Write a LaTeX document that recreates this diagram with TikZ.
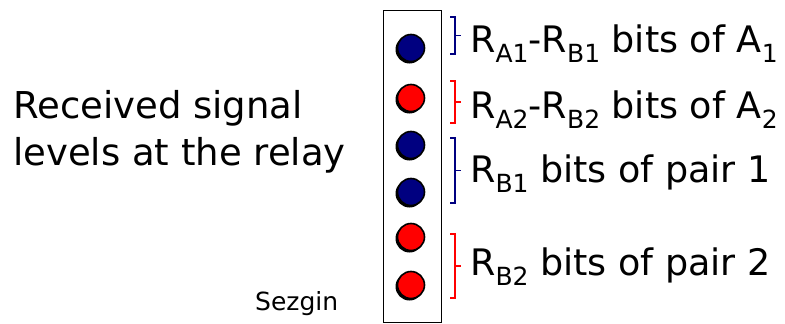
\documentclass[tikz,border=0pt]{standalone}
\usepackage{fontspec}
\setmainfont{DejaVu Sans}
\usetikzlibrary{positioning}
\definecolor{navyblue}{RGB}{0,0,128}
\definecolor{sigred}{RGB}{255,0,0}
\newcommand{\lowsub}[1]{\raisebox{-0.3em}{\fontsize{25}{25}\selectfont #1}}
\tikzset{
  level/.style={circle, draw=black, line width=1.6pt, minimum size=27pt, inner sep=0pt},
  lvlshadow/.style={circle, fill=black, minimum size=28pt, inner sep=0pt},
  grp/.style={line width=1.1pt},
  big/.style={font=\fontsize{36.5}{40}\selectfont, anchor=base west, inner sep=0pt},
  side/.style={font=\fontsize{37}{47}\selectfont, anchor=base west, inner sep=0pt, align=left},
  sig/.style={font=\fontsize{25}{28}\selectfont, anchor=base west, inner sep=0pt}
}
\begin{document}
\begin{tikzpicture}[x=1pt, y=-1pt]
  \useasboundingbox (0,0) rectangle (785,324);
  % column of signal levels
  \node[draw, line width=1.2pt, minimum width=58pt, minimum height=312pt,
        inner sep=0pt, anchor=north west] (relay) at (383,10) {};
  \foreach \n/\y/\c in {1/48/navyblue, 2/98/sigred, 3/145/navyblue,
                        4/192/navyblue, 5/237/sigred, 6/285/sigred} {
    \node[lvlshadow] at (409.5,\y+1.5) {};
    \node[level, fill=\c] (lv\n) at (411,\y) {};
  }
  % groups
  \foreach \g/\t/\b/\c in {a/17/54/navyblue, b/81/123/sigred,
                           c/138/203/navyblue, d/234/298/sigred} {
    \coordinate (\g top) at (450,\t);
    \coordinate (\g bot) at (450,\b);
    \coordinate (\g mid) at (455,{(\t+\b)/2});
    \coordinate (\g tip) at (461,{(\t+\b)/2});
    \draw[grp, \c] (\g top) -- ++(5,0) |- (\g bot);
    \draw[grp, \c] (\g mid) -- (\g tip);
  }
  \node[big] (la) at (470,52) {R\lowsub{A1}-R\lowsub{B1} bits of A\lowsub{1}};
  \node[big] (lb) at (470,118) {R\lowsub{A2}-R\lowsub{B2} bits of A\lowsub{2}};
  \node[big] (lc) at (470,182) {R\lowsub{B1} bits of pair 1};
  \node[big] (ld) at (470,275) {R\lowsub{B2} bits of pair 2};
  \node[side] (recv) at (13,165) {Received signal\\levels at the relay};
  \node[sig] (name) at (255,310) {Sezgin};
\end{tikzpicture}
\end{document}
